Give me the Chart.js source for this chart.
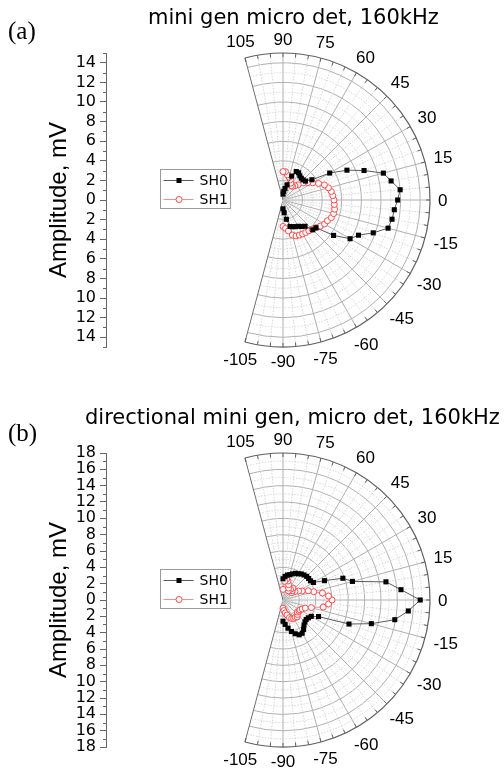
<!DOCTYPE html>
<html>
<head>
<meta charset="utf-8">
<script src="https://cdn.jsdelivr.net/npm/chart.js@4.4.0/dist/chart.umd.min.js"></script>
<style>
  body { margin: 0; background: #fff; width: 504px; height: 770px; position: relative; overflow: hidden; }
  .panel { position: absolute; left: 0; width: 504px; height: 385px; }
  .panel canvas { position: absolute; left: 0; top: 0; }
  .ttl { position: absolute; font-family: "DejaVu Sans", sans-serif; font-size: 21px; white-space: nowrap; color: #000; }
  .lbl { position: absolute; font-family: "Liberation Serif", serif; font-size: 25px; color: #000; }
</style>
</head>
<body>
<div class="panel" style="top:0">
  <canvas id="chartA" width="504" height="385"></canvas>
  <div class="lbl" style="left:8px;top:17px">(a)</div>
  <div class="ttl" style="left:148px;top:5px">mini gen micro det, 160kHz</div>
</div>
<div class="panel" style="top:385px">
  <canvas id="chartB" width="504" height="385"></canvas>
  <div class="lbl" style="left:8px;top:34px">(b)</div>
  <div class="ttl" style="left:85px;top:20px">directional mini gen, micro det, 160kHz</div>
</div>
<script>
// measurement angles, degrees
const angles = [-90, -85, -80, -75, -70, -65, -60, -55, -50, -45, -40, -35, -30, -25, -20, -15, -10, -5, 0,
                5, 10, 15, 20, 25, 30, 35, 40, 45, 50, 55, 60, 65, 70, 75, 80, 85, 90];

// (a) amplitudes, mV
const sh0A = [0.9, 1.3, 2.0, 2.8, 2.9, 3.0, 3.1, 3.3, 3.5, 4.3, 4.4, 6.3, 7.9, 8.5, 9.8, 11.1, 11.3, 11.4, 11.7,
              12.0, 11.2, 10.6, 8.8, 7.2, 5.5, 3.6, 3.0, 2.9, 2.9, 3.0, 3.2, 3.2, 2.6, 1.6, 1.2, 0.9, 0.6];
const sh1A = [2.7, 2.9, 3.2, 3.7, 3.9, 3.95, 4.0, 4.05, 4.1, 4.2, 4.4, 4.65, 4.9, 5.0, 5.25, 5.35, 5.35, 5.25, 5.2,
              5.1, 5.0, 4.8, 4.5, 4.0, 3.5, 3.1, 2.7, 2.2, 1.9, 1.7, 1.7, 1.9, 2.2, 2.4, 2.6, 2.9, 2.9];

// (b) amplitudes, mV
const sh0B = [2.6, 3.0, 3.5, 4.0, 4.4, 4.7, 4.7, 4.4, 4.0, 3.8, 3.7, 3.8, 4.0, 4.8, 8.6, 11.2, 13.9, 15.4, 16.8,
              14.5, 12.8, 8.8, 7.8, 5.6, 4.3, 4.1, 4.1, 4.1, 4.0, 3.9, 3.7, 3.6, 3.4, 3.2, 3.1, 2.9, 2.6];
const sh1B = [1.0, 1.3, 1.6, 1.9, 2.3, 2.5, 2.6, 2.6, 2.7, 2.5, 2.3, 2.4, 2.4, 2.6, 2.9, 3.6, 5.0, 5.6, 6.0,
              5.6, 4.9, 3.9, 3.3, 2.6, 2.2, 1.8, 1.4, 1.6, 1.9, 1.6, 1.3, 1.6, 2.0, 2.4, 2.6, 2.3, 1.3];

// angular axis labels
const angleTicks = [105, 90, 75, 60, 45, 30, 15, 0, -15, -30, -45, -60, -75, -90, -105];

const seriesNames = ['SH0', 'SH1'];

const rad = d => d * Math.PI / 180;
const toXY = (angs, rs) => angs.map((a, i) => ({ x: rs[i] * Math.cos(rad(a)), y: rs[i] * Math.sin(rad(a)) }));

// polar grid, angle labels, minor ticks and legend
const polarGrid = {
  id: 'polarGrid',
  beforeDatasetsDraw(chart, args, o) {
    const { ctx, scales: { x, y } } = chart;
    const cx = x.getPixelForValue(0), cy = y.getPixelForValue(0);
    const k = x.getPixelForValue(1) - cx;
    const R = o.rMax * k;
    ctx.save();
    ctx.lineWidth = 1;
    // circles
    for (let v = 1; v < o.rMax; v++) {
      const major = v % 2 === 0;
      ctx.strokeStyle = major ? '#b0b0b0' : '#d6d6d6';
      ctx.setLineDash(major ? [] : [1.5, 1.5]);
      ctx.beginPath();
      ctx.arc(cx, cy, v * k, rad(-105), rad(105));
      ctx.stroke();
    }
    // spokes
    for (let a = -105; a <= 105; a += 5) {
      const major = a % 15 === 0;
      const edge = Math.abs(a) === 105;
      ctx.strokeStyle = edge ? '#707070' : (major ? '#b0b0b0' : '#d6d6d6');
      ctx.setLineDash(major ? [] : [1.5, 1.5]);
      ctx.beginPath();
      ctx.moveTo(cx, cy);
      ctx.lineTo(cx + R * Math.cos(rad(a)), cy - R * Math.sin(rad(a)));
      ctx.stroke();
    }
    ctx.setLineDash([]);
    // outer arc + small ticks
    ctx.strokeStyle = '#606060';
    ctx.lineWidth = 1.2;
    ctx.beginPath();
    ctx.arc(cx, cy, R, rad(-105), rad(105));
    ctx.stroke();
    ctx.lineWidth = 1;
    for (let a = -105; a <= 105; a += 5) {
      const c = Math.cos(rad(a)), s = Math.sin(rad(a));
      ctx.beginPath();
      ctx.moveTo(cx + R * c, cy - R * s);
      ctx.lineTo(cx + (R - 4) * c, cy - (R - 4) * s);
      ctx.stroke();
    }
    ctx.restore();
  },
  afterDraw(chart, args, o) {
    const { ctx, scales: { x, y } } = chart;
    const cx = x.getPixelForValue(0), cy = y.getPixelForValue(0);
    const k = x.getPixelForValue(1) - cx;
    const R = o.rMax * k;
    ctx.save();
    // angle labels
    ctx.font = '17px "Liberation Sans"';
    ctx.fillStyle = '#000';
    ctx.textAlign = 'center';
    ctx.textBaseline = 'middle';
    angleTicks.forEach(a => {
      const t = String(a);
      const w = ctx.measureText(t).width, h = 12;
      const c = Math.cos(rad(a)), s = Math.sin(rad(a));
      const d = R + 8 + Math.abs(c) * w / 2 + Math.abs(s) * h / 2;
      ctx.fillText(t, cx + d * c, cy - d * s + 1);
    });
    // minor ticks on amplitude axis
    ctx.strokeStyle = '#666';
    ctx.lineWidth = 1;
    const ax = chart.chartArea.left;
    for (let v = -o.rMax; v <= o.rMax; v++) {
      if (v % 2 === 0) continue;
      const py = Math.round(y.getPixelForValue(v)) + 0.5;
      ctx.beginPath();
      ctx.moveTo(ax - 3, py);
      ctx.lineTo(ax, py);
      ctx.stroke();
    }
    // legend
    const bx = 160.5, by = Math.round(cy - 31) + 0.5;
    ctx.strokeStyle = '#9a9a9a';
    ctx.strokeRect(bx, by, 70, 39);
    ctx.font = '14px "DejaVu Sans"';
    ctx.textAlign = 'left';
    chart.data.datasets.forEach((ds, i) => {
      const ly = by + 11 + i * 19;
      ctx.strokeStyle = ds.borderColor;
      ctx.beginPath();
      ctx.moveTo(bx + 3, ly);
      ctx.lineTo(bx + 33, ly);
      ctx.stroke();
      if (ds.pointStyle === 'rect') {
        ctx.fillStyle = ds.pointBackgroundColor;
        ctx.fillRect(bx + 16, ly - 2.5, 5, 5);
      } else {
        ctx.fillStyle = '#fff';
        ctx.strokeStyle = ds.pointBorderColor;
        ctx.beginPath();
        ctx.arc(bx + 18.5, ly, 3, 0, Math.PI * 2);
        ctx.fill();
        ctx.stroke();
      }
      ctx.fillStyle = '#000';
      ctx.fillText(ds.label, bx + 39, ly + 1);
    });
    ctx.restore();
  }
};

function makePolar(id, rMax, padTop, padBottom, s0, s1) {
  const padLeft = 45, axisW = 61, padRight = 74;
  const W = 504, H = 385;
  const pxPerMv = (H - padTop - padBottom) / (2 * rMax);
  const xMin = rMax - (W - padLeft - axisW - padRight) / pxPerMv;
  return new Chart(document.getElementById(id), {
    type: 'scatter',
    data: {
      datasets: [{
        label: seriesNames[0],
        data: toXY(angles, s0),
        showLine: true,
        borderColor: '#5a5a5a',
        borderWidth: 1,
        pointStyle: 'rect',
        pointRadius: 3.6,
        pointBorderWidth: 0,
        pointBackgroundColor: '#000',
        pointBorderColor: '#000'
      }, {
        label: seriesNames[1],
        data: toXY(angles, s1),
        showLine: true,
        borderColor: '#ff8c8c',
        borderWidth: 1,
        pointStyle: 'circle',
        pointRadius: 3,
        pointBorderWidth: 1,
        pointBackgroundColor: '#fff',
        pointBorderColor: '#ff4a4a'
      }]
    },
    options: {
      responsive: false,
      animation: false,
      layout: { padding: { left: padLeft, right: padRight, top: padTop, bottom: padBottom } },
      plugins: {
        legend: { display: false },
        tooltip: { enabled: false },
        polarGrid: { rMax: rMax }
      },
      scales: {
        x: { type: 'linear', display: false, min: xMin, max: rMax },
        y: {
          type: 'linear',
          min: -rMax, max: rMax,
          afterFit: s => { s.width = axisW; },
          border: { display: true, color: '#666', width: 1 },
          grid: {
            drawOnChartArea: false,
            tickLength: 6,
            tickColor: c => (c.tick && c.tick.value % 2 === 0) ? '#666' : 'rgba(0,0,0,0)'
          },
          ticks: {
            stepSize: 1,
            maxTicksLimit: 100,
            autoSkip: false,
            padding: 4,
            color: '#000',
            font: { family: 'DejaVu Sans', size: 16 },
            callback: v => (v % 2 === 0 ? String(Math.abs(v)) : '')
          },
          title: {
            display: true,
            text: 'Amplitude, mV',
            color: '#000',
            font: { family: 'Liberation Sans', size: 24 },
            padding: { top: 0, bottom: 0 }
          }
        }
      }
    },
    plugins: [polarGrid]
  });
}

makePolar('chartA', 15, 53, 38, sh0A, sh1A);
makePolar('chartB', 18, 68, 23, sh0B, sh1B);
</script>
</body>
</html>
